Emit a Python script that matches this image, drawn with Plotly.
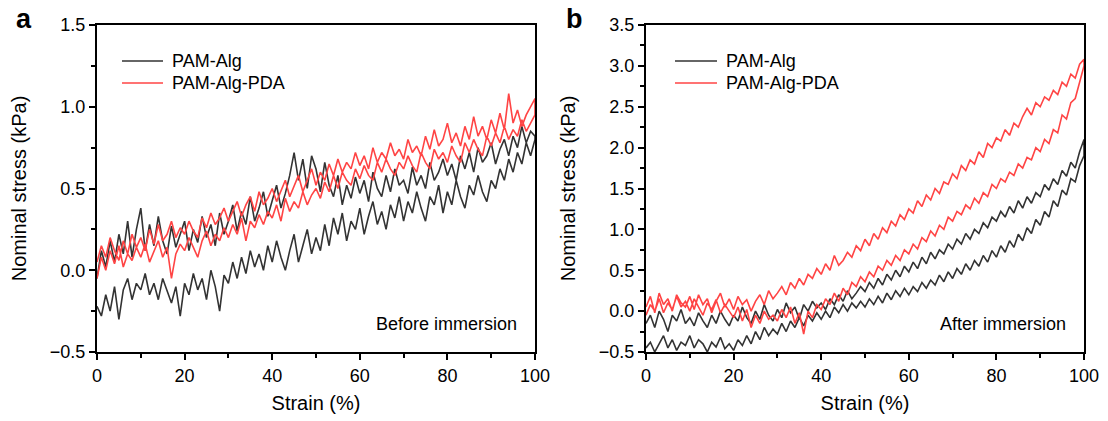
import plotly.graph_objects as go

# strain grid (%), sampled every 1 %
strain = list(range(0, 101))

# ---- Panel a: before immersion (values at strain 0..100) ----
a_alg_load = [-0.05, 0.12, 0.02, 0.18, 0.05, 0.22, 0.10, 0.30, 0.08, 0.25,
              0.38, 0.12, 0.28, 0.15, 0.33, 0.18, 0.10, 0.27, 0.14, 0.22,
              0.30, 0.12, 0.25, 0.17, 0.33, 0.20, 0.28, 0.15, 0.35, 0.22,
              0.30, 0.40, 0.24, 0.36, 0.28, 0.45, 0.30, 0.38, 0.48, 0.33,
              0.42, 0.52, 0.38, 0.47, 0.58, 0.72, 0.55, 0.68, 0.50, 0.70,
              0.62, 0.48, 0.66, 0.52, 0.45, 0.58, 0.40, 0.52, 0.44, 0.57,
              0.47, 0.55, 0.42, 0.60, 0.50, 0.45, 0.58, 0.48, 0.62, 0.52,
              0.55, 0.47, 0.63, 0.52, 0.58, 0.50, 0.66, 0.55, 0.60, 0.68,
              0.58, 0.65, 0.55, 0.70, 0.62, 0.72, 0.60, 0.75, 0.66, 0.70,
              0.78, 0.65, 0.74, 0.80, 0.70, 0.82, 0.75, 0.88, 0.78, 0.85, 0.82]
a_alg_unload = [-0.22, -0.28, -0.15, -0.25, -0.10, -0.30, -0.12, -0.05, -0.18, -0.08,
                -0.12, -0.02, -0.15, -0.08, -0.18, -0.05, -0.12, -0.20, -0.10, -0.28,
                -0.08, -0.15, -0.02, -0.12, -0.05, -0.18, 0.00, -0.10, -0.25, -0.03,
                -0.08, 0.05, -0.05, 0.08, -0.02, 0.12, 0.02, 0.10, 0.00, 0.15,
                0.05, 0.18, 0.08, 0.00, 0.12, 0.22, 0.05, 0.15, 0.25, 0.10,
                0.20, 0.12, 0.28, 0.15, 0.32, 0.22, 0.35, 0.18, 0.30, 0.25,
                0.38, 0.22, 0.33, 0.42, 0.28, 0.36, 0.25, 0.40, 0.32, 0.45,
                0.30, 0.42, 0.35, 0.48, 0.38, 0.30, 0.45, 0.40, 0.52, 0.35,
                0.48, 0.40, 0.55, 0.45, 0.38, 0.52, 0.46, 0.58, 0.48, 0.42,
                0.55, 0.50, 0.62, 0.55, 0.68, 0.60, 0.72, 0.65, 0.78, 0.70, 0.80]
a_pda_load = [0.05, 0.15, 0.08, 0.20, 0.12, 0.06, 0.18, 0.10, 0.22, 0.14,
              0.20, 0.12, 0.25, 0.16, 0.28, 0.18, 0.22, 0.30, 0.20, 0.26,
              0.22, 0.30, 0.24, 0.20, 0.32, 0.26, 0.35, 0.28, 0.32, 0.38,
              0.30, 0.36, 0.42, 0.33, 0.40, 0.45, 0.36, 0.48, 0.40, 0.44,
              0.50, 0.42, 0.48, 0.55, 0.45, 0.52, 0.58, 0.48, 0.55, 0.62,
              0.52, 0.60, 0.55, 0.65, 0.58, 0.68, 0.60, 0.66, 0.62, 0.72,
              0.64, 0.70, 0.62, 0.75, 0.66, 0.72, 0.68, 0.78, 0.70, 0.74,
              0.68, 0.80, 0.72, 0.76, 0.70, 0.82, 0.74, 0.86, 0.76, 0.80,
              0.90, 0.78, 0.84, 0.76, 0.88, 0.80, 0.94, 0.82, 0.88, 0.80,
              0.92, 0.84, 0.96, 0.86, 1.08, 0.90, 0.98, 0.88, 0.95, 1.00, 1.05]
a_pda_unload = [-0.05, 0.08, 0.00, 0.12, 0.04, 0.15, 0.02, 0.10, 0.06, 0.14,
                0.08, 0.16, 0.05, 0.12, 0.18, 0.08, 0.14, -0.05, 0.10, 0.16,
                0.12, 0.20, 0.14, 0.08, 0.18, 0.24, 0.15, 0.22, 0.18, 0.26,
                0.20, 0.28, 0.22, 0.32, 0.18, 0.30, 0.26, 0.34, 0.28, 0.36,
                0.32, 0.40, 0.30, 0.44, 0.36, 0.42, 0.38, 0.48, 0.40, 0.46,
                0.50, 0.44, 0.54, 0.48, 0.58, 0.50, 0.60, 0.55, 0.52, 0.62,
                0.56, 0.64, 0.58, 0.55, 0.66, 0.60, 0.68, 0.62, 0.58, 0.66,
                0.62, 0.70, 0.64, 0.60, 0.72, 0.66, 0.62, 0.74, 0.68, 0.72,
                0.66, 0.76, 0.70, 0.66, 0.78, 0.72, 0.80, 0.74, 0.70, 0.82,
                0.76, 0.84, 0.78, 0.88, 0.80, 0.86, 0.82, 0.92, 0.85, 0.90, 0.95]

# ---- Panel b: after immersion (values at strain 0..100) ----
b_alg_load = [-0.15, -0.05, -0.20, 0.00, -0.10, -0.25, -0.05, -0.12, 0.02, -0.15,
              -0.08, -0.18, -0.02, -0.12, -0.20, -0.05, -0.15, 0.00, -0.10, -0.18,
              -0.05, -0.12, 0.05, -0.08, -0.15, 0.00, -0.10, 0.08, -0.05, -0.12,
              0.02, -0.08, 0.10, -0.02, 0.05, -0.10, 0.08, 0.00, 0.12, 0.04,
              0.10, 0.02, 0.15, 0.08, 0.20, 0.12, 0.25, 0.15, 0.22, 0.30,
              0.24, 0.35, 0.28, 0.40, 0.32, 0.45, 0.38, 0.50, 0.42, 0.55,
              0.48, 0.60, 0.52, 0.66, 0.58, 0.72, 0.64, 0.75, 0.70, 0.82,
              0.76, 0.88, 0.82, 0.95, 0.88, 1.00, 0.95, 1.08, 1.02, 1.15,
              1.10, 1.22, 1.15, 1.28, 1.20, 1.35, 1.26, 1.40, 1.32, 1.45,
              1.40, 1.55, 1.48, 1.62, 1.55, 1.72, 1.65, 1.82, 1.75, 1.95, 2.10]
b_alg_unload = [-0.45, -0.38, -0.50, -0.40, -0.30, -0.45, -0.35, -0.48, -0.38, -0.42,
                -0.30, -0.45, -0.35, -0.40, -0.50, -0.38, -0.44, -0.32, -0.46, -0.40,
                -0.48, -0.35, -0.42, -0.30, -0.40, -0.25, -0.35, -0.20, -0.30, -0.22,
                -0.28, -0.15, -0.25, -0.12, -0.20, -0.08, -0.18, -0.05, -0.12, -0.02,
                -0.10, 0.00, -0.08, 0.05, -0.02, 0.08, 0.00, 0.10, 0.04, 0.12,
                0.05, 0.15, 0.08, 0.18, 0.10, 0.22, 0.14, 0.25, 0.18, 0.28,
                0.20, 0.30, 0.24, 0.35, 0.28, 0.38, 0.32, 0.44, 0.36, 0.48,
                0.40, 0.52, 0.45, 0.58, 0.50, 0.62, 0.55, 0.68, 0.60, 0.74,
                0.66, 0.80, 0.72, 0.86, 0.78, 0.94, 0.86, 1.02, 0.95, 1.12,
                1.05, 1.22, 1.15, 1.35, 1.28, 1.48, 1.42, 1.62, 1.58, 1.78, 1.90]
b_pda_load = [0.05, 0.18, -0.02, 0.22, 0.08, 0.15, 0.00, 0.20, 0.10, 0.05,
              0.18, 0.02, 0.20, 0.08, 0.15, -0.02, 0.12, 0.22, 0.05, 0.15,
              0.02, 0.18, 0.08, 0.14, 0.00, 0.12, 0.20, 0.08, 0.25, 0.15,
              0.22, 0.30, 0.20, 0.35, 0.28, 0.40, 0.32, 0.45, 0.40, 0.52,
              0.45, 0.58, 0.50, 0.68, 0.56, 0.62, 0.72, 0.66, 0.80, 0.74,
              0.88, 0.80, 0.95, 0.88, 1.02, 0.96, 1.10, 1.04, 1.18, 1.12,
              1.25, 1.20, 1.35, 1.28, 1.42, 1.36, 1.50, 1.44, 1.58, 1.55,
              1.68, 1.62, 1.78, 1.72, 1.85, 1.80, 1.95, 1.88, 2.05, 2.00,
              2.12, 2.08, 2.22, 2.15, 2.30, 2.25, 2.38, 2.48, 2.40, 2.55,
              2.50, 2.62, 2.58, 2.70, 2.65, 2.80, 2.75, 2.90, 2.85, 3.02, 3.08]
b_pda_unload = [-0.05, 0.08, 0.00, 0.15, -0.02, 0.10, 0.02, 0.18, 0.05, 0.12,
                0.00, 0.15, 0.05, -0.05, 0.10, 0.02, 0.14, -0.02, 0.08, 0.00,
                -0.08, 0.05, -0.12, 0.02, -0.20, -0.05, -0.15, 0.00, -0.10, -0.05,
                -0.12, 0.02, -0.08, 0.05, -0.15, -0.02, -0.28, 0.00, -0.08, 0.08,
                0.02, 0.15, 0.08, 0.22, 0.12, 0.28, 0.20, 0.35, 0.30, 0.42,
                0.36, 0.48, 0.42, 0.55, 0.50, 0.62, 0.56, 0.68, 0.62, 0.75,
                0.70, 0.82, 0.76, 0.90, 0.85, 0.98, 0.92, 1.05, 1.00, 1.15,
                1.10, 1.22, 1.18, 1.30, 1.25, 1.38, 1.32, 1.45, 1.40, 1.55,
                1.50, 1.62, 1.58, 1.70, 1.66, 1.80, 1.75, 1.88, 1.85, 2.00,
                1.95, 2.10, 2.05, 2.22, 2.18, 2.40, 2.35, 2.55, 2.60, 2.80, 3.00]

series_names = ["PAM-Alg", "PAM-Alg-PDA"]
panel_notes = ["Before immersion", "After immersion"]
panel_letters = ["a", "b"]
x_ticks = [0, 20, 40, 60, 80, 100]

BLACK = "#333333"
RED = "#ff4444"
FONT = "Liberation Sans, Arial, sans-serif"
W, H = 1108, 421

fig = go.Figure()

def loop(load, unload):
    xs = strain + strain[::-1]
    ys = load + unload[::-1]
    return xs, ys

panels = [
    ("x", "y", [(a_alg_load, a_alg_unload, BLACK), (a_pda_load, a_pda_unload, RED)]),
    ("x2", "y2", [(b_alg_load, b_alg_unload, BLACK), (b_pda_load, b_pda_unload, RED)]),
]
for xa, ya, curves in panels:
    for name, (ld, ul, col) in zip(series_names, curves):
        xs, ys = loop(ld, ul)
        fig.add_trace(go.Scatter(x=xs, y=ys, mode="lines", name=name,
                                 line=dict(color=col, width=1.6),
                                 xaxis=xa, yaxis=ya, showlegend=False))

ydom = [1 - 352 / H, 1 - 25 / H]
xdomA = [97 / W, 535 / W]
xdomB = [646 / W, 1084 / W]

axis_common = dict(showline=True, linecolor="black", linewidth=2, mirror=True,
                   ticks="outside", ticklen=6, tickwidth=2, tickcolor="black",
                   showgrid=False, zeroline=False, automargin=False,
                   tickfont=dict(family=FONT, size=18, color="black"),
                   title_font=dict(family=FONT, size=20, color="black"))
minor_x = dict(dtick=10, ticks="outside", ticklen=4, tickwidth=2, tickcolor="black")
minor_y = dict(dtick=0.25, ticks="outside", ticklen=4, tickwidth=2, tickcolor="black")

fig.update_layout(
    width=W, height=H, margin=dict(l=0, r=0, t=0, b=0),
    plot_bgcolor="white", paper_bgcolor="white",
    font=dict(family=FONT, color="black"),
    showlegend=False,
    xaxis=dict(domain=xdomA, anchor="y", range=[0, 100], tickvals=x_ticks, minor=minor_x,
               title=dict(text="Strain (%)", standoff=11), **axis_common),
    yaxis=dict(domain=ydom, anchor="x", range=[-0.5, 1.5], dtick=0.5, tickformat=".1f",
               minor=minor_y, title=dict(text="Nominal stress (kPa)", standoff=18), **axis_common),
    xaxis2=dict(domain=xdomB, anchor="y2", range=[0, 100], tickvals=x_ticks, minor=minor_x,
                title=dict(text="Strain (%)", standoff=11), **axis_common),
    yaxis2=dict(domain=ydom, anchor="x2", range=[-0.5, 3.5], dtick=0.5, tickformat=".1f",
                minor=minor_y, title=dict(text="Nominal stress (kPa)", standoff=18), **axis_common),
)

# hand-drawn legends (line sample + label) for each panel
legend_pos = [(122, 163), (675, 717)]
legend_rows = [61, 83]
for (x0, x1) in legend_pos:
    for name, col, yy in zip(series_names, [BLACK, RED], legend_rows):
        fig.add_shape(type="line", xref="paper", yref="paper",
                      x0=x0 / W, x1=x1 / W, y0=1 - yy / H, y1=1 - yy / H,
                      line=dict(color=col, width=1.6))
        fig.add_annotation(x=(x1 + 7) / W, y=1 - yy / H, xref="paper", yref="paper",
                           text=name, showarrow=False, xanchor="left", yanchor="middle",
                           font=dict(family=FONT, size=18, color="black"))

# panel letters
for letter, px in zip(panel_letters, [24, 574]):
    fig.add_annotation(x=px / W, y=1 - 19 / H, xref="paper", yref="paper",
                       text="<b>" + letter + "</b>", showarrow=False,
                       xanchor="center", yanchor="middle",
                       font=dict(family=FONT, size=27, color="black"))

# panel notes
for note, px in zip(panel_notes, [519, 1068]):
    fig.add_annotation(x=px / W, y=1 - 324 / H, xref="paper", yref="paper",
                       text=note, showarrow=False, xanchor="right", yanchor="middle",
                       font=dict(family=FONT, size=18, color="black"))

fig.write_html("out.html")
